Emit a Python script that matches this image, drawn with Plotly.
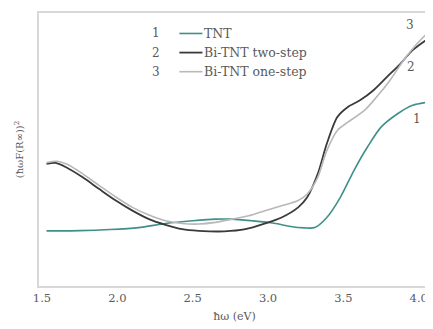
import plotly.graph_objects as go

# TNT
x1 = [1.53, 1.75, 1.95, 2.14, 2.32, 2.50, 2.65, 2.76, 2.89, 3.04, 3.15, 3.24, 3.31, 3.39, 3.48, 3.57, 3.66, 3.75, 3.86, 3.96, 4.07]
y1 = [20.2, 20.3, 20.7, 21.4, 22.9, 23.9, 24.5, 24.5, 23.9, 23.0, 21.8, 21.3, 21.4, 25.1, 32.5, 42.3, 50.9, 58.2, 63.1, 66.2, 67.4]
# Bi-TNT two-step
x2 = [1.53, 1.59, 1.66, 1.77, 1.88, 1.99, 2.10, 2.21, 2.32, 2.43, 2.54, 2.71, 2.85, 2.98, 3.09, 3.20, 3.26, 3.33, 3.39, 3.46, 3.53, 3.61, 3.70, 3.79, 3.88, 3.96, 4.07]
y2 = [44.7, 45.1, 43.5, 39.8, 35.5, 31.3, 27.6, 24.5, 22.4, 20.8, 20.2, 20.0, 20.8, 22.9, 25.1, 28.8, 32.5, 41.1, 52.1, 61.9, 65.6, 68.0, 71.7, 76.6, 81.5, 86.4, 90.9]
# Bi-TNT one-step
x3 = [1.53, 1.60, 1.67, 1.77, 1.88, 1.99, 2.10, 2.21, 2.32, 2.43, 2.54, 2.65, 2.76, 2.87, 2.98, 3.09, 3.20, 3.26, 3.33, 3.39, 3.46, 3.53, 3.64, 3.72, 3.81, 3.90, 3.99, 4.07]
y3 = [45.2, 45.7, 44.5, 41.1, 36.8, 32.6, 28.8, 26.0, 23.9, 22.9, 22.7, 23.3, 24.5, 25.7, 27.6, 29.4, 31.3, 33.7, 39.8, 49.6, 57.0, 60.0, 64.3, 69.2, 75.4, 82.7, 88.8, 93.4]

names = ["TNT", "Bi-TNT two-step", "Bi-TNT one-step"]
numbers = ["1", "2", "3"]
xticks = [1.5, 2.0, 2.5, 3.0, 3.5, 4.0]

colors = ["#3f8f8a", "#3a3a3a", "#b8b8b8"]
widths = [1.6, 1.8, 1.6]

font = "DejaVu Serif"
txtc = "#5a5a5a"
fig = go.Figure()
for xs, ys, c, w in zip([x1, x2, x3], [y1, y2, y3], colors, widths):
    fig.add_trace(go.Scatter(x=xs, y=ys, mode="lines", line=dict(color=c, width=w, shape="spline", smoothing=0.8),
                             showlegend=False, hoverinfo="skip"))

# legend drawn manually in paper coordinates
leg_y = [0.925, 0.855, 0.785]
for i, (num, name, c, ly) in enumerate(zip(numbers, names, colors, leg_y)):
    fig.add_annotation(x=0.30, y=ly, xref="paper", yref="paper", text=num, showarrow=False,
                       font=dict(family=font, size=12, color=txtc), xanchor="center", yanchor="middle")
    fig.add_shape(type="line", xref="paper", yref="paper", x0=0.359, x1=0.418, y0=ly, y1=ly,
                  line=dict(color=c, width=widths[i]))
    fig.add_annotation(x=0.418, y=ly, xref="paper", yref="paper", text=name, showarrow=False,
                       font=dict(family=font, size=12.5, color=txtc), xanchor="left", yanchor="middle")

# curve labels
for num, lx, ly in zip(numbers, [3.99, 3.95, 3.94], [61.3, 80.3, 95.5]):
    fig.add_annotation(x=lx, y=ly, text=num, showarrow=False,
                       font=dict(family=font, size=12, color=txtc))

fig.update_layout(
    width=425, height=321,
    margin=dict(l=31, r=1, t=5, b=43),
    plot_bgcolor="white", paper_bgcolor="white",
    font=dict(family=font, size=11.5, color=txtc),
    xaxis=dict(range=[1.48, 4.075], tickvals=xticks, ticktext=[f"{v:.1f}" for v in xticks],
               showgrid=False, zeroline=False, showline=True, mirror=True, linecolor="#d8d8d8", linewidth=1.5,
               ticks="", tickfont=dict(family=font, size=11.5, color=txtc),
               title=dict(text="ħω (eV)", font=dict(family=font, size=11, color=txtc), standoff=9)),
    yaxis=dict(range=[0, 100], showticklabels=False, showgrid=False, zeroline=False, showline=True, mirror=True,
               linecolor="#d8d8d8", linewidth=1.5, ticks="",
               title=dict(text="(ħωF(R∞))<sup>2</sup>", font=dict(family=font, size=10, color=txtc), standoff=12)),
)

fig.write_html("out.html")
